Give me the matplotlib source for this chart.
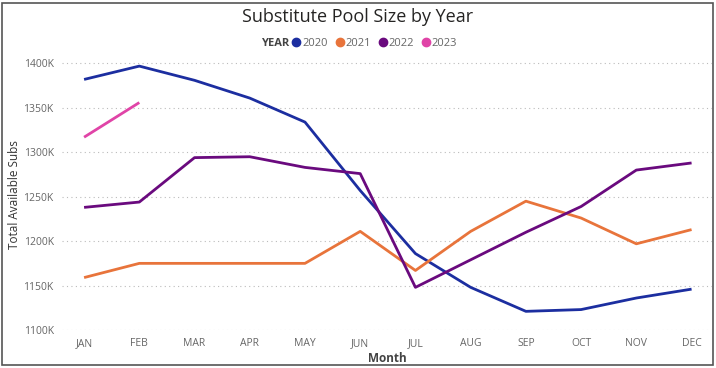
import matplotlib.pyplot as plt
from matplotlib.lines import Line2D
from matplotlib.patches import Rectangle

months = ["JAN", "FEB", "MAR", "APR", "MAY", "JUN", "JUL", "AUG", "SEP", "OCT", "NOV", "DEC"]
years = ["2020", "2021", "2022", "2023"]

# values in thousands
subs_2020 = [1382, 1397, 1381, 1361, 1334, 1257, 1186, 1148, 1121, 1123, 1136, 1146]
subs_2021 = [1159, 1175, 1175, 1175, 1175, 1211, 1167, 1211, 1245, 1226, 1197, 1213]
subs_2022 = [1238, 1244, 1294, 1295, 1283, 1276, 1148, 1179, 1210, 1239, 1280, 1288]
subs_2023 = [1317, 1356]

colors = ["#1C2EA0", "#E8743B", "#6A0A7E", "#E044A7"]
series = [subs_2020, subs_2021, subs_2022, subs_2023]

plt.rcParams['font.family'] = ['Open Sans', 'DejaVu Sans']

fig = plt.figure(figsize=(7.16, 3.68), dpi=100)
ax = fig.add_axes([62/716, (368-330)/368, 650/716, 271/368])

for ys, c in zip(series, colors):
  ax.plot(range(len(ys)), ys, color=c, linewidth=2.0, solid_capstyle='butt')

ax.set_xlim(-0.4, 11.37)
ax.set_ylim(1100, 1405)
ax.set_xticks(range(12))
ax.set_xticklabels(months)
yt = [1100, 1150, 1200, 1250, 1300, 1350, 1400]
ax.set_yticks(yt)
ax.set_yticklabels(["%dK" % v for v in yt])
ax.tick_params(length=0, labelsize=7.5, colors="#666666", pad=6)
ax.grid(axis='y', linestyle=(0, (1, 3)), color="#bbbbbb", linewidth=0.8)
ax.set_axisbelow(True)
for s in ax.spines.values():
  s.set_visible(False)
ax.set_ylabel("Total Available Subs", fontsize=8.5, color="#333333", labelpad=2)
ax.set_xlabel("Month", fontsize=8.5, color="#444444", fontweight='bold', labelpad=2)

fig.text(0.5, 1 - 17/368, "Substitute Pool Size by Year", ha='center', va='center',
         fontsize=13, color="#252423")

handles = [Line2D([], [], marker='o', linestyle='none', color=c, markersize=6) for c in colors]
leg = fig.legend(handles, years, loc='center left', bbox_to_anchor=(292/716, 1 - 43/368), ncol=4,
                 frameon=False, handletextpad=0.1, columnspacing=0.7, fontsize=8,
                 handlelength=0.8, borderpad=0, borderaxespad=0)
for t in leg.get_texts():
  t.set_color("#666666")
fig.text(289/716, 1 - 43/368, "YEAR", ha='right', va='center', fontsize=8,
         fontweight='bold', color="#444444")

fig.patches.append(Rectangle((2/716, 3/368), 711/716, 362/368, transform=fig.transFigure,
                             fill=False, edgecolor="#555555", linewidth=1.2))

fig.savefig("out.png", dpi=100)
